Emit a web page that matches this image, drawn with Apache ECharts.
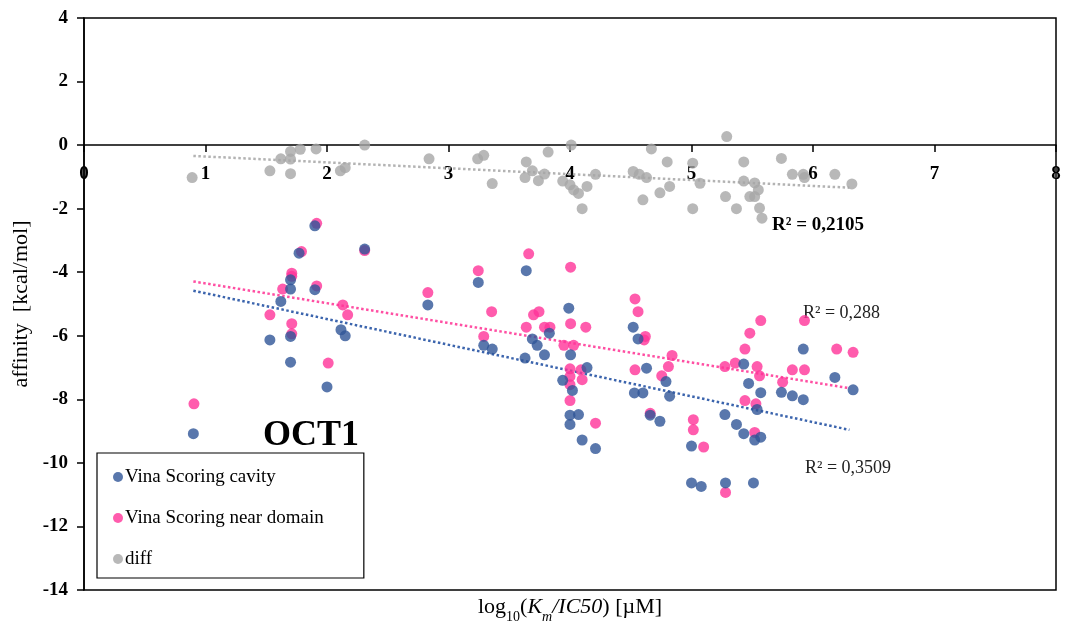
<!DOCTYPE html>
<html>
<head>
<meta charset="utf-8">
<script src="https://cdn.jsdelivr.net/npm/echarts@6/dist/echarts.min.js"></script>
<style>
html,body{margin:0;padding:0;background:#fff;}
#chart{width:1065px;height:630px;}
</style>
</head>
<body>
<div id="chart"></div>
<script>
// data
var cavity=[[0.90,-9.08],[1.53,-6.13],[1.62,-4.92],[1.70,-4.53],[1.70,-4.24],[1.70,-6.02],[1.70,-6.83],[1.77,-3.40],
	[1.90,-2.54],[1.90,-4.55],[2.00,-7.61],[2.115,-5.81],[2.15,-6.00],[2.31,-3.27],[2.83,-5.03],[3.245,-4.32],
	[3.29,-6.30],[3.36,-6.42],[3.63,-6.70],[3.64,-3.95],[3.69,-6.10],[3.73,-6.30],[3.79,-6.60],[3.83,-5.92],
	[3.94,-7.40],[3.99,-5.13],[4.005,-6.60],[4.02,-7.72],[4.00,-8.50],[4.07,-8.48],[4.00,-8.79],[4.10,-9.28],
	[4.14,-7.00],[4.21,-9.55],[4.52,-5.73],[4.56,-6.10],[4.63,-7.02],[4.53,-7.80],[4.60,-7.80],[4.79,-7.44],
	[4.82,-7.90],[4.66,-8.50],[4.74,-8.69],[5.00,-9.47],[5.00,-10.63],[5.08,-10.74],[5.275,-8.48],[5.28,-10.63],
	[5.37,-8.79],[5.43,-6.89],[5.43,-9.08],[5.47,-7.50],[5.51,-10.63],[5.52,-9.28],[5.57,-9.19],[5.54,-8.32],
	[5.57,-7.79],[5.74,-7.78],[5.83,-7.89],[5.92,-8.01],[5.92,-6.42],[6.18,-7.31],[6.33,-7.70]];
var nearDomain=[[0.905,-8.14],[1.53,-5.34],[1.635,-4.53],[1.71,-4.03],[1.71,-4.13],[1.71,-5.62],[1.71,-5.94],
	[1.79,-3.35],[1.915,-2.46],[1.915,-4.43],[2.01,-6.86],[2.13,-5.03],[2.17,-5.34],[2.31,-3.32],[2.83,-4.64],
	[3.245,-3.95],[3.29,-6.02],[3.355,-5.24],[3.64,-5.73],[3.66,-3.42],[3.70,-5.34],[3.745,-5.24],[3.79,-5.73],
	[3.835,-5.73],[3.95,-6.30],[4.03,-6.30],[4.005,-3.84],[4.005,-5.62],[4.13,-5.73],[4.00,-7.04],[4.09,-7.07],
	[4.00,-7.28],[4.00,-7.54],[4.10,-7.38],[4.00,-8.04],[4.21,-8.75],[4.535,-4.84],[4.56,-5.24],[4.62,-6.02],
	[4.61,-6.13],[4.535,-7.07],[4.84,-6.62],[4.81,-6.97],[4.755,-7.26],[4.66,-8.44],[5.015,-8.64],[5.015,-8.96],
	[5.10,-9.50],[5.275,-6.97],[5.36,-6.86],[5.44,-6.42],[5.48,-5.92],[5.57,-5.52],[5.54,-6.97],[5.56,-7.26],
	[5.44,-8.04],[5.53,-8.14],[5.52,-9.04],[5.28,-10.93],[5.93,-5.52],[5.83,-7.07],[5.93,-7.07],[5.75,-7.46],
	[6.195,-6.42],[6.33,-6.52]];
var diff=[[0.89,-1.02],[1.53,-0.81],[1.62,-0.43],[1.70,-0.20],[1.70,-0.44],[1.70,-0.90],[1.78,-0.13],[1.91,-0.12],
	[2.11,-0.81],[2.15,-0.71],[2.31,0],[2.84,-0.43],[3.24,-0.43],[3.29,-0.32],[3.36,-1.21],[3.64,-0.53],[3.63,-1.02],
	[3.69,-0.81],[3.74,-1.12],[3.79,-0.91],[3.82,-0.22],[4.01,0],[3.94,-1.13],[4.00,-1.25],[4.03,-1.41],[4.07,-1.52],
	[4.14,-1.30],[4.10,-2.00],[4.21,-0.92],[4.52,-0.83],[4.57,-0.92],[4.63,-1.02],[4.67,-0.12],[4.80,-0.53],
	[4.74,-1.50],[4.82,-1.30],[4.60,-1.72],[5.01,-0.57],[5.01,-2.00],[5.07,-1.20],[5.29,0.27],[5.43,-0.53],
	[5.43,-1.13],[5.52,-1.19],[5.55,-1.41],[5.48,-1.62],[5.52,-1.62],[5.28,-1.62],[5.37,-2.00],[5.56,-1.98],
	[5.58,-2.30],[5.74,-0.42],[5.83,-0.92],[5.92,-0.92],[5.93,-1.02],[6.18,-0.92],[6.32,-1.22]];
// trendline ends as drawn in the picture
var trendCavity=[[0.9,-4.58],[6.3,-8.96]];
var trendNear=[[0.9,-4.29],[6.3,-7.65]];
var trendDiff=[[0.9,-0.34],[6.3,-1.34]];
var r2Labels=['R² = 0,2105','R² = 0,288','R² = 0,3509'];

var serif='"Liberation Serif","Times New Roman",serif';
var blue='#2f5597', pink='#ff3399', gray='#a6a6a6';

var chart=echarts.init(document.getElementById('chart'));

function scatter(name,data,color){
	return {
		name:name, type:'scatter', data:data, symbolSize:11,
		itemStyle:{color:color}, z:3
	};
}
function trend(name,data,color){
	return {
		name:name, type:'line', data:data, symbol:'none', silent:true,
		lineStyle:{color:color,width:2.5,type:'dotted'}, z:2
	};
}

var option={
	backgroundColor:'#fff',
	animation:false,
	grid:[
		{left:84,right:9,top:18,bottom:40,show:true,borderColor:'#000',borderWidth:1.5,backgroundColor:'transparent',outerBoundsMode:'none'},
		// upper part only (y 4..0), so its bottom edge is the zero line where the x ticks sit
		{left:84,right:9,top:18,height:127,show:false,outerBoundsMode:'none'}
	],
	xAxis:[{
		type:'value', min:0, max:8, interval:1, gridIndex:0,
		axisLine:{show:false}, axisTick:{show:false}, axisLabel:{show:false},
		splitLine:{show:false},
		name:'{n|log}{s|10}{n|(}{i|K}{si|m}{i|/IC50}{n|) [µM]}',
		nameLocation:'middle', nameGap:6,
		nameTextStyle:{
			rich:{
				n:{fontFamily:serif,fontSize:22,color:'#000'},
				s:{fontFamily:serif,fontSize:14,color:'#000',verticalAlign:'bottom',padding:[0,0,-6,0]},
				i:{fontFamily:serif,fontSize:22,fontStyle:'italic',color:'#000'},
				si:{fontFamily:serif,fontSize:14,fontStyle:'italic',color:'#000',verticalAlign:'bottom',padding:[0,0,-6,0]}
			}
		}
	},{
		type:'value', min:0, max:8, interval:1, gridIndex:1, position:'bottom',
		axisLine:{show:true,onZero:false,lineStyle:{color:'#000',width:1.5}},
		axisTick:{show:true,length:7,lineStyle:{color:'#000',width:1.5}},
		axisLabel:{color:'#000',fontFamily:serif,fontWeight:'bold',fontSize:19,margin:20},
		splitLine:{show:false}
	}],
	yAxis:[{
		type:'value', min:-14, max:4, interval:2, gridIndex:0,
		axisLine:{show:true,lineStyle:{color:'#000',width:1.5}},
		axisTick:{show:true,length:7,lineStyle:{color:'#000',width:1.5}},
		axisLabel:{color:'#000',fontFamily:serif,fontWeight:'bold',fontSize:19,margin:16},
		splitLine:{show:false},
		name:'affinity  [kcal/mol]', nameLocation:'middle', nameGap:50,
		nameTextStyle:{fontFamily:serif,fontSize:22,color:'#000'}
	},{
		type:'value', min:0, max:4, gridIndex:1, show:false
	}],
	legend:{
		orient:'vertical', left:97, top:453,
		data:['Vina Scoring cavity','Vina Scoring near domain','diff'],
		icon:'circle', itemWidth:10, itemHeight:10, itemGap:21,
		padding:[14,40,9,16],
		borderColor:'#000', borderWidth:1.2, backgroundColor:'#fff',
		textStyle:{fontFamily:serif,fontSize:19,color:'#000',lineHeight:20,padding:[0,0,0,-3]}
	},
	graphic:[
		{type:'text',left:263,top:418,style:{text:'OCT1',font:'bold 36px '+serif,fill:'#000'}},
		{type:'text',left:772,top:216,style:{text:r2Labels[0],font:'bold 19px '+serif,fill:'#000'}},
		{type:'text',left:803,top:304,style:{text:r2Labels[1],font:'18px '+serif,fill:'#222'}},
		{type:'text',left:805,top:459,style:{text:r2Labels[2],font:'18px '+serif,fill:'#222'}}
	],
	series:[
		trend('trend diff',trendDiff,'#b3b3b3'),
		trend('trend near',trendNear,'#ff4fa3'),
		trend('trend cavity',trendCavity,'#3b64ad'),
		scatter('diff',diff,gray),
		scatter('Vina Scoring near domain',nearDomain,pink),
		scatter('Vina Scoring cavity',cavity,blue)
	]
};
chart.setOption(option);
</script>
</body>
</html>
